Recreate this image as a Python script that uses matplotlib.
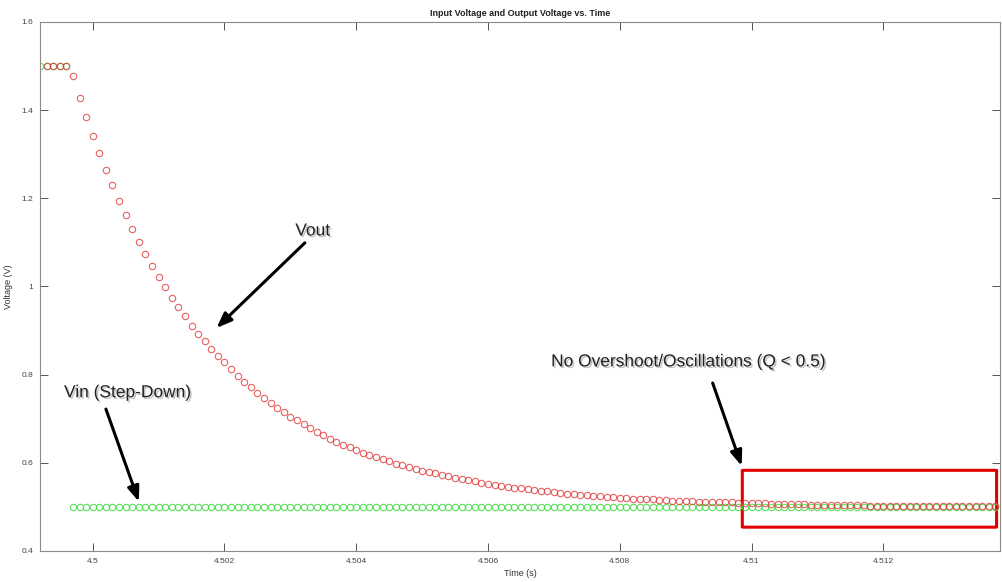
import matplotlib
matplotlib.use("Agg")
import matplotlib.pyplot as plt
import matplotlib.patheffects as pe
from matplotlib.patches import FancyBboxPatch
from matplotlib.ticker import FormatStrFormatter
import numpy as np

plt.rcParams['font.family'] = ['Liberation Sans', 'DejaVu Sans']

# sampling of the scope trace
t_start = 4.4992
dt = 0.0001

# input voltage (step from 1.5 V down to 0.5 V), samples from t_start
vin = [1.5] * 5 + [0.5] * 141

# output voltage, samples from t_start + dt
vout = [1.5, 1.5, 1.5, 1.5,
        1.477, 1.428, 1.384, 1.342, 1.302, 1.264, 1.230, 1.194, 1.162, 1.130,
        1.101, 1.073, 1.047, 1.021, 0.998, 0.975, 0.953, 0.932, 0.911, 0.892,
        0.876, 0.858, 0.843, 0.828, 0.812, 0.797, 0.783, 0.771, 0.758, 0.746,
        0.735, 0.725, 0.715, 0.705, 0.696, 0.687, 0.678, 0.670, 0.662, 0.654,
        0.648, 0.641, 0.635, 0.629, 0.623, 0.618, 0.613, 0.608, 0.603, 0.598,
        0.594, 0.590, 0.586, 0.582, 0.579, 0.576,
        0.573, 0.569, 0.566, 0.563, 0.560, 0.558, 0.555, 0.553, 0.550, 0.548,
        0.546, 0.544, 0.542, 0.540, 0.538, 0.536, 0.535, 0.533, 0.532, 0.530,
        0.529, 0.528, 0.526, 0.525, 0.524, 0.523, 0.522, 0.521, 0.520, 0.519,
        0.518, 0.517, 0.517, 0.516, 0.515, 0.514, 0.514, 0.513, 0.513, 0.512,
        0.511, 0.511, 0.510, 0.510, 0.510, 0.509, 0.509, 0.508, 0.508, 0.508,
        0.507, 0.507, 0.507, 0.506, 0.506,
        0.506, 0.505, 0.505, 0.505, 0.505, 0.504, 0.504, 0.504, 0.504, 0.504,
        0.503, 0.503, 0.503, 0.503, 0.503, 0.503, 0.503, 0.503,
        0.502, 0.502, 0.502, 0.502, 0.502, 0.502, 0.502, 0.502,
        0.502, 0.502, 0.501, 0.501]

x_ticks = [4.5, 4.502, 4.504, 4.506, 4.508, 4.51, 4.512]
y_ticks = [0.4, 0.6, 0.8, 1.0, 1.2, 1.4, 1.6]

t_in = t_start + dt * np.arange(len(vin))
t_out = t_start + dt * np.arange(1, len(vout) + 1)

fig = plt.figure(figsize=(10.03, 5.82), dpi=100)
ax = fig.add_axes([0.0399, 0.0533, 0.957, 0.9089])

ax.plot(t_in, vin, 'o', ms=4.6, mfc='none', mec='#3fdc3f', mew=0.8, alpha=0.85)
ax.plot(t_out, vout, 'o', ms=4.6, mfc='none', mec='#e03a3a', mew=0.8, alpha=0.8)

ax.set_xlim(4.4992, 4.51377)
ax.set_ylim(0.4, 1.6)
ax.set_xticks(x_ticks)
ax.set_yticks(y_ticks)
ax.xaxis.set_major_formatter(FormatStrFormatter('%g'))
ax.yaxis.set_major_formatter(FormatStrFormatter('%g'))
ax.tick_params(direction='in', length=6, width=0.7, color='#555555',
               labelsize=6, labelcolor='#444444', top=True, right=True, pad=5)
for s in ax.spines.values():
    s.set_color('#8a8a8a')
    s.set_linewidth(0.8)

ax.set_title('Input Voltage and Output Voltage vs. Time', fontsize=6.5,
             fontweight='bold', pad=4, color='#222222')
ax.set_xlabel('Time (s)', fontsize=6.5, color='#333333', labelpad=3)
ax.set_ylabel('Voltage (V)', fontsize=6.5, color='#333333', labelpad=6)

shadow = [pe.withSimplePatchShadow(offset=(1.2, -1.2), shadow_rgbFace='#999999', alpha=0.6)]
arrow = dict(arrowstyle='-|>,head_length=0.9,head_width=0.35', color='black', lw=2.2,
             shrinkA=0, shrinkB=0)

ax.text(4.50334, 1.126, 'Vout', fontsize=12.5, ha='center', va='center',
        color='#222222', path_effects=shadow)
ax.annotate('', xy=(4.50188, 0.906), xytext=(4.50322, 1.099), arrowprops=arrow)

ax.text(4.50053, 0.759, 'Vin (Step-Down)', fontsize=12.5, ha='center', va='center',
        color='#222222', path_effects=shadow)
ax.annotate('', xy=(4.50070, 0.512), xytext=(4.50020, 0.722), arrowprops=arrow)

ax.text(4.50905, 0.829, 'No Overshoot/Oscillations (Q < 0.5)', fontsize=12.5,
        ha='center', va='center', color='#222222', path_effects=shadow)
ax.annotate('', xy=(4.50985, 0.593), xytext=(4.50941, 0.781), arrowprops=arrow)

box = FancyBboxPatch((4.50986, 0.454), 4.51372 - 4.50986, 0.583 - 0.454,
                     boxstyle='round,pad=0,rounding_size=0.00003', fill=False,
                     ec='#e00000', lw=2.2, mutation_aspect=0.004 / 0.0002)
ax.add_patch(box)

fig.savefig('out.png', dpi=100)
